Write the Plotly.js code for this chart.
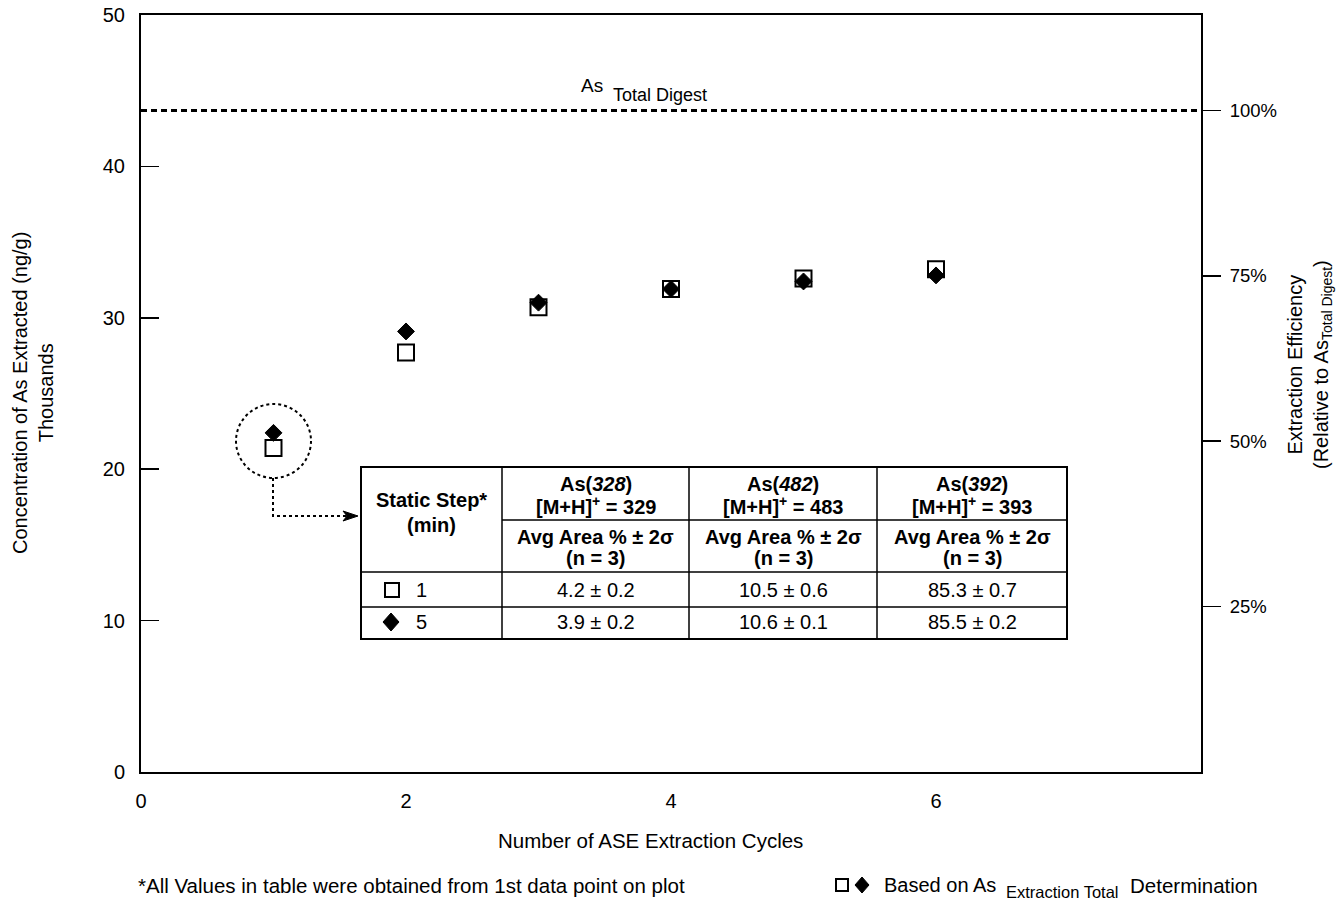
<!DOCTYPE html>
<html>
<head>
<meta charset="utf-8">
<script src="https://cdn.plot.ly/plotly-3.0.1.min.js"></script>
<style>html,body{margin:0;padding:0;background:#fff;}#chart{width:1340px;height:910px;}</style>
</head>
<body>
<div id="chart"></div>
<script>
// ---- data ----
const cycles = [1, 2, 3, 4, 5, 6];
const conc1min = [21.4, 27.7, 30.7, 31.9, 32.6, 33.2];   // open squares (1 min static step), thousands ng/g
const conc5min = [22.4, 29.1, 31.0, 31.9, 32.4, 32.8];   // filled diamonds (5 min static step)
const totalDigest = 43.7;                                  // As total digest, thousands ng/g
const xTicks = [0, 2, 4, 6];
const yTicks = [0, 10, 20, 30, 40, 50];
const effTicks = [25, 50, 75, 100];
const effLabels = ['25%', '50%', '75%', '100%'];
const compounds = ['As(<i>328</i>)', 'As(<i>482</i>)', 'As(<i>392</i>)'];
const ionLabels = ['[M+H]<sup>+</sup> = 329', '[M+H]<sup>+</sup> = 483', '[M+H]<sup>+</sup> = 393'];
const statHead = 'Avg Area % \u00b1 2\u03c3';
const nHead = '(n = 3)';
const staticSteps = ['1', '5'];
const row1min = ['4.2 \u00b1 0.2', '10.5 \u00b1 0.6', '85.3 \u00b1 0.7'];
const row5min = ['3.9 \u00b1 0.2', '10.6 \u00b1 0.1', '85.5 \u00b1 0.2'];

// ---- pixel -> paper helpers ----
const L = 141, R = 1201, T = 15, B = 772;
const px = x => (x - L) / (R - L);
const py = y => (B - y) / (B - T);
const FONT = 'Liberation Sans, Arial, sans-serif';

const shapes = [];
const annotations = [];
const ann = (x, y, text, size, opts) => annotations.push(Object.assign({
  xref: 'paper', yref: 'paper', x: px(x), y: py(y), text: text, showarrow: false,
  xanchor: 'center', yanchor: 'middle', align: 'center',
  font: {family: FONT, size: size, color: '#000'}}, opts || {}));

// total digest dotted line
shapes.push({type: 'line', xref: 'paper', x0: 0, x1: 1, yref: 'y', y0: totalDigest, y1: totalDigest,
  line: {color: '#000', width: 3, dash: '6px,4px'}});
ann(579, 85, 'As', 19, {xanchor: 'left'});
ann(611, 95, 'Total Digest', 18, {xanchor: 'left'});

// dotted circle + arrow
shapes.push({type: 'circle', xref: 'paper', yref: 'paper', x0: px(236), x1: px(311), y0: py(404), y1: py(478),
  line: {color: '#000', width: 2, dash: 'dot'}});
shapes.push({type: 'path', xref: 'paper', yref: 'paper',
  path: `M ${px(273)} ${py(478)} L ${px(273)} ${py(516)} L ${px(349)} ${py(516)}`,
  line: {color: '#000', width: 2, dash: 'dot'}});
shapes.push({type: 'path', xref: 'paper', yref: 'paper',
  path: `M ${px(343)} ${py(511)} L ${px(358)} ${py(516)} L ${px(343)} ${py(521)} L ${px(347)} ${py(516)} Z`,
  fillcolor: '#000', line: {color: '#000', width: 1}});

// table
const colX = [361, 502, 689, 877, 1067];
const rowY = [467, 520, 572, 607, 639];
const tl = (x0, y0, x1, y1, w) => shapes.push({type: 'line', xref: 'paper', yref: 'paper',
  x0: px(x0), y0: py(y0), x1: px(x1), y1: py(y1), line: {color: '#000', width: w}});
shapes.push({type: 'rect', xref: 'paper', yref: 'paper', x0: px(colX[0]), x1: px(colX[4]), y0: py(rowY[0]), y1: py(rowY[4]),
  fillcolor: '#fff', line: {color: '#000', width: 2}});
for (let i = 1; i < 4; i++) tl(colX[i], rowY[0], colX[i], rowY[4], 1.5);
tl(colX[1], rowY[1], colX[4], rowY[1], 1.5);
tl(colX[0], rowY[2], colX[4], rowY[2], 1.5);
tl(colX[0], rowY[3], colX[4], rowY[3], 1.5);

const HB = 20, DS = 20;
ann((colX[0] + colX[1]) / 2, 500, '<b>Static Step*</b>', HB);
ann((colX[0] + colX[1]) / 2, 525, '<b>(min)</b>', HB);
for (let i = 0; i < 3; i++) {
  const cx = (colX[i + 1] + colX[i + 2]) / 2;
  ann(cx, 484, '<b>' + compounds[i] + '</b>', HB);
  ann(cx, 506, '<b>' + ionLabels[i] + '</b>', HB);
  ann(cx, 537, '<b>' + statHead + '</b>', HB);
  ann(cx, 558, '<b>' + nHead + '</b>', HB);
  ann(cx, 590, row1min[i], DS);
  ann(cx, 622, row5min[i], DS);
}
ann(421, 590, staticSteps[0], DS);
ann(421, 622, staticSteps[1], DS);

// symbol helpers (table / footnote)
const sq = (cx, cy, h) => shapes.push({type: 'rect', xref: 'paper', yref: 'paper',
  x0: px(cx - h), x1: px(cx + h), y0: py(cy - h), y1: py(cy + h), fillcolor: '#fff', line: {color: '#000', width: 2}});
const dm = (cx, cy, hx, hy) => shapes.push({type: 'path', xref: 'paper', yref: 'paper',
  path: `M ${px(cx)} ${py(cy - hy)} L ${px(cx + hx)} ${py(cy)} L ${px(cx)} ${py(cy + hy)} L ${px(cx - hx)} ${py(cy)} Z`,
  fillcolor: '#000', line: {color: '#000', width: 1}});
sq(392, 590, 7);
dm(391, 622, 8, 9);

// footnotes
ann(136, 885, '*All Values in table were obtained from 1st data point on plot', 20.5, {xanchor: 'left'});
sq(842, 885, 6);
dm(862, 885, 7, 8);
ann(882, 885, 'Based on As', 20, {xanchor: 'left'});
ann(1004, 892, 'Extraction Total', 16.5, {xanchor: 'left'});
ann(1128, 885, 'Determination', 20.5, {xanchor: 'left'});

// axis titles
ann(650, 840, 'Number of ASE Extraction Cycles', 20.5);
ann(33, 393, 'Concentration of As Extracted (ng/g)<br>Thousands', 20, {textangle: -90});
ann(1310, 365, 'Extraction Efficiency<br>(Relative to As<sub>Total Digest</sub>)', 20, {textangle: -90});

const traces = [
  {x: cycles, y: conc1min, type: 'scatter', mode: 'markers', name: '1 min',
    marker: {symbol: 'square', size: 16, color: '#fff', line: {color: '#000', width: 2}}},
  {x: cycles, y: conc5min, type: 'scatter', mode: 'markers', name: '5 min',
    marker: {symbol: 'diamond', size: 13, color: '#000', line: {color: '#000', width: 1}}},
  {x: [0], y: [0], yaxis: 'y2', type: 'scatter', mode: 'markers', marker: {opacity: 0}, showlegend: false, hoverinfo: 'skip'}
];

const layout = {
  width: 1340, height: 910,
  margin: {l: L, r: 1340 - R, t: T, b: 910 - B},
  paper_bgcolor: '#fff', plot_bgcolor: '#fff',
  showlegend: false,
  font: {family: FONT, size: 20, color: '#000'},
  xaxis: {range: [0, 8], tickvals: xTicks, ticks: '', showgrid: false, zeroline: false,
    showline: true, linecolor: '#000', linewidth: 2, mirror: true, ticklabelstandoff: 10,
    tickfont: {family: FONT, size: 20, color: '#000'}},
  yaxis: {range: [0, 50], tickvals: yTicks, ticks: 'inside', ticklen: 18, tickwidth: 1.5, tickcolor: '#000',
    showgrid: false, zeroline: false, showline: true, linecolor: '#000', linewidth: 2, mirror: true,
    ticklabelstandoff: 10, tickfont: {family: FONT, size: 20, color: '#000'}},
  yaxis2: {overlaying: 'y', side: 'right', range: [0, 100 * 50 / totalDigest], tickvals: effTicks, ticktext: effLabels,
    ticks: 'outside', ticklen: 18, tickwidth: 1.5, tickcolor: '#000', showgrid: false, zeroline: false,
    showline: true, linecolor: '#000', linewidth: 2, ticklabelstandoff: 5,
    tickfont: {family: FONT, size: 18.5, color: '#000'}},
  shapes: shapes,
  annotations: annotations
};

Plotly.newPlot('chart', traces, layout, {displayModeBar: false, staticPlot: true});
</script>
</body>
</html>
